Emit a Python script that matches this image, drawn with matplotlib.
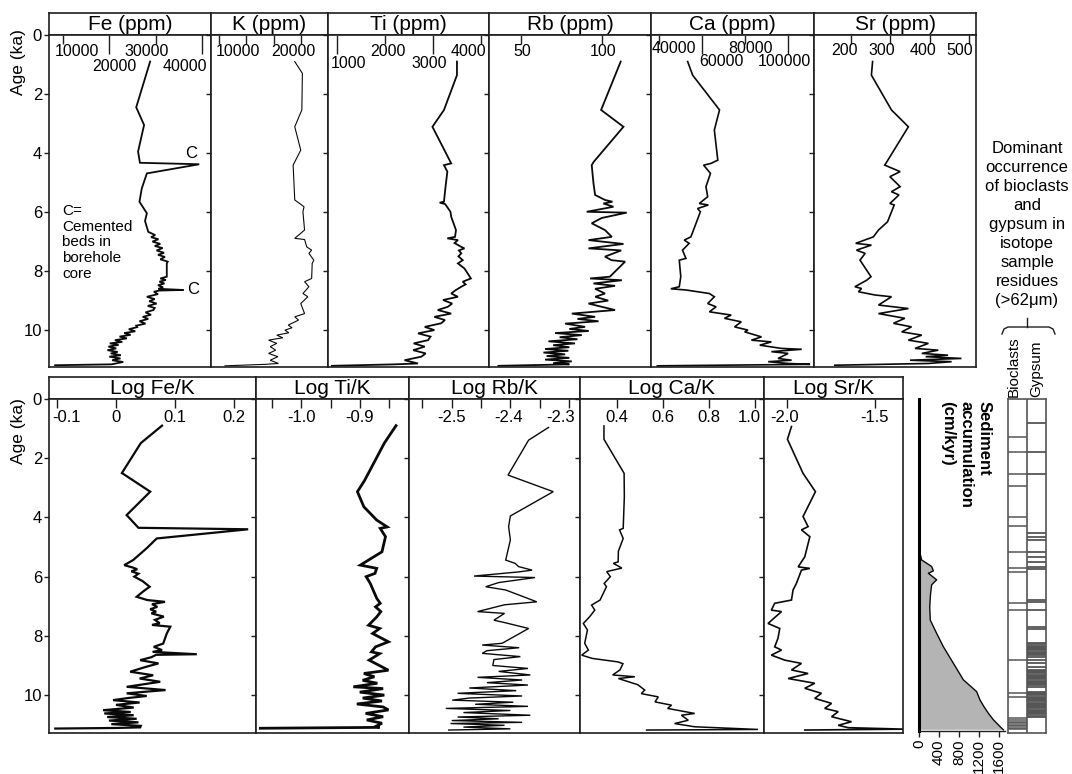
import matplotlib
matplotlib.use('Agg')
import matplotlib.pyplot as plt

plt.rcParams['font.family'] = ['Liberation Sans', 'DejaVu Sans']

# ------------------------------------------------------------------ data
age_ticks = [0, 2, 4, 6, 8, 10]

fe_age = [0.90, 2.45, 3.05, 3.95, 4.33, 4.38, 4.69, 5.20, 5.65, 6.04, 6.30, 6.67, 6.78, 6.85, 6.92,
          7.00, 7.08, 7.15, 7.22, 7.30, 7.38, 7.45, 7.52, 7.60, 7.68, 7.74, 8.19, 8.25, 8.30, 8.36,
          8.42, 8.48, 8.55, 8.60, 8.64, 8.66, 8.70, 8.78, 8.87, 8.95, 9.02, 9.10, 9.18, 9.25, 9.32,
          9.40, 9.48, 9.55, 9.62, 9.70, 9.78, 9.85, 9.90, 9.97, 10.04, 10.10, 10.16, 10.22, 10.28,
          10.34, 10.40, 10.45, 10.50, 10.56, 10.62, 10.68, 10.74, 10.79, 10.85, 10.90, 10.96, 11.02,
          11.08, 11.13, 11.16, 11.19]
fe_ppm = [28800, 25800, 27500, 26200, 26600, 39400, 28100, 27000, 26500, 28100, 27700, 28400, 29900,
          29000, 30600, 29300, 31000, 29800, 31500, 30200, 31800, 30500, 32000, 31000, 32600, 32400,
          32400, 31000, 32200, 30800, 31900, 30500, 31600, 30600, 36000, 30800, 29600, 30500, 28100,
          29800, 28600, 30200, 28300, 29800, 29500, 27800, 29000, 27200, 28400, 26500, 27800, 25800,
          26000, 24200, 25600, 23200, 24600, 22200, 23800, 21200, 22800, 20100, 22000, 19800, 21500,
          19600, 21800, 20300, 22500, 20000, 22400, 20600, 23000, 21400, 20500, 8300]

k_age = [0.90, 1.30, 2.54, 3.11, 3.90, 4.41, 5.59, 5.71, 5.82, 5.99, 6.61, 6.89, 6.93, 7.18, 7.29,
         7.40, 7.63, 7.74, 8.25, 8.36, 8.53, 8.76, 8.87, 9.10, 9.44, 9.55, 9.66, 9.83, 9.92, 10.00,
         10.09, 10.17, 10.26, 10.34, 10.45, 10.56, 10.68, 10.79, 10.90, 11.02, 11.13, 11.16, 11.21]
k_ppm = [23900, 25300, 25200, 23900, 25000, 23600, 23900, 24800, 25600, 25400, 25700, 23900, 25700,
         26100, 27000, 26500, 27400, 27100, 27000, 25700, 26500, 25400, 26300, 25000, 25700, 23900,
         24600, 22700, 23400, 22100, 22800, 20600, 21700, 19100, 20600, 19400, 20400, 19100, 20800,
         19400, 20900, 18500, 11100]

ti_age = [0.90, 1.36, 2.54, 3.11, 4.35, 4.41, 4.63, 5.25, 5.65, 5.68, 5.73, 5.99, 6.16, 6.61, 6.84,
          6.89, 6.95, 7.05, 7.18, 7.23, 7.30, 7.40, 7.50, 7.63, 7.74, 7.91, 8.25, 8.36, 8.45, 8.53,
          8.65, 8.76, 8.87, 8.98, 9.10, 9.21, 9.32, 9.44, 9.55, 9.66, 9.77, 9.89, 10.00, 10.11, 10.22,
          10.34, 10.45, 10.56, 10.68, 10.79, 10.90, 11.02, 11.13, 11.16, 11.21]
ti_ppm = [3500, 3500, 3230, 2990, 3380, 3230, 3300, 3255, 3230, 3140, 3255, 3365, 3380, 3480, 3460,
          3300, 3520, 3450, 3590, 3655, 3540, 3590, 3530, 3620, 3520, 3655, 3790, 3620, 3680, 3590,
          3470, 3380, 3520, 3210, 3400, 3310, 3100, 3380, 3030, 3250, 3170, 2830, 3030, 2690, 2950,
          2900, 2600, 2830, 2590, 2850, 2760, 2410, 2690, 2210, 900]

rb_age = [0.90, 2.54, 3.11, 4.30, 4.41, 5.03, 5.42, 5.59, 5.65, 5.71, 5.82, 5.99, 6.02, 6.20, 6.38,
          6.61, 6.84, 6.95, 7.08, 7.23, 7.30, 7.51, 7.63, 7.68, 8.19, 8.25, 8.31, 8.42, 8.50, 8.60,
          8.76, 8.87, 9.00, 9.10, 9.21, 9.32, 9.44, 9.55, 9.62, 9.70, 9.78, 9.89, 9.96, 10.03, 10.10,
          10.17, 10.24, 10.31, 10.38, 10.45, 10.51, 10.58, 10.64, 10.70, 10.76, 10.82, 10.88, 10.94,
          11.00, 11.06, 11.12, 11.16, 11.21]
rb_ppm = [111.7, 99.6, 113.4, 95.0, 93.8, 94.9, 95.9, 102.0, 106.6, 101.0, 107.2, 90.7, 115.4, 100.0,
          93.8, 102.0, 106.2, 91.8, 113.4, 91.8, 112.0, 102.0, 106.0, 114.4, 105.0, 92.8, 112.4, 94.9,
          108.2, 95.9, 102.0, 96.0, 104.0, 91.8, 100.0, 108.2, 81.5, 95.9, 85.0, 98.0, 77.4, 89.7,
          80.0, 92.0, 71.2, 87.7, 74.0, 85.0, 67.1, 83.5, 70.0, 80.0, 65.0, 79.4, 64.0, 77.4, 66.0,
          80.0, 65.0, 81.5, 70.0, 80.0, 36.2]

ca_age = [0.90, 1.36, 2.54, 3.22, 4.24, 4.35, 4.41, 4.69, 5.14, 5.48, 5.71, 5.76, 5.88, 5.99, 6.38,
          6.84, 6.95, 7.06, 7.29, 7.57, 7.63, 8.19, 8.53, 8.60, 8.64, 8.76, 8.87, 9.10, 9.21, 9.38,
          9.49, 9.60, 9.72, 9.89, 10.00, 10.06, 10.23, 10.34, 10.40, 10.51, 10.62, 10.65, 10.73,
          10.79, 10.96, 11.02, 11.07, 11.13, 11.16, 11.21]
ca_ppm = [53300, 55600, 68100, 65700, 67300, 64200, 60700, 63900, 61800, 62600, 58700, 62900, 57900,
          59200, 57200, 54800, 51700, 54000, 50900, 52500, 49400, 50100, 49400, 45500, 52500, 63400,
          65700, 62600, 66500, 63400, 73500, 70400, 78200, 75100, 81300, 79800, 87600, 82900, 92200,
          86800, 96900, 106300, 92200, 100000, 95300, 101600, 90700, 100000, 110200, 39200]

sr_age = [0.90, 1.36, 2.54, 3.11, 4.41, 4.63, 4.80, 5.14, 5.31, 5.42, 5.71, 5.76, 6.33, 6.61, 6.84,
          7.06, 7.12, 7.29, 7.40, 7.63, 8.19, 8.31, 8.53, 8.59, 8.70, 8.81, 8.87, 9.15, 9.27, 9.44,
          9.60, 9.77, 9.89, 10.06, 10.17, 10.34, 10.45, 10.62, 10.68, 10.79, 10.85, 10.90, 10.96,
          11.02, 11.07, 11.13, 11.19]
sr_ppm = [255, 252, 303, 346, 286, 325, 299, 325, 303, 322, 299, 310, 293, 270, 257, 212, 252, 214,
          236, 223, 251, 240, 210, 227, 219, 261, 303, 270, 346, 270, 337, 308, 354, 329, 380, 346,
          397, 363, 422, 380, 447, 390, 481, 350, 456, 397, 159]

fek_age = [0.90, 1.49, 2.50, 3.13, 3.92, 4.35, 4.40, 4.71, 5.04, 5.44, 5.61, 5.69, 5.75, 5.82, 5.90,
           6.00, 6.15, 6.34, 6.50, 6.68, 6.79, 6.85, 6.93, 7.02, 7.10, 7.18, 7.24, 7.35, 7.46, 7.57,
           7.63, 7.69, 7.92, 8.26, 8.37, 8.48, 8.54, 8.62, 8.64, 8.72, 8.82, 8.93, 9.05, 9.21, 9.33,
           9.44, 9.55, 9.64, 9.72, 9.83, 9.94, 10.03, 10.10, 10.17, 10.25, 10.33, 10.42, 10.51, 10.57,
           10.62, 10.68, 10.74, 10.80, 10.86, 10.92, 10.98, 11.04, 11.09, 11.11, 11.13]
fek_log = [0.078, 0.042, 0.010, 0.058, 0.018, 0.038, 0.224, 0.069, 0.052, 0.029, 0.014, 0.028, 0.036,
           0.026, 0.038, 0.031, 0.045, 0.057, 0.046, 0.035, 0.053, 0.083, 0.061, 0.070, 0.058, 0.068,
           0.060, 0.081, 0.066, 0.074, 0.061, 0.092, 0.086, 0.080, 0.064, 0.078, 0.062, 0.137, 0.068,
           0.060, 0.041, 0.072, 0.050, 0.024, 0.063, 0.040, 0.075, 0.045, 0.018, 0.084, 0.018, 0.052,
           0.020, -0.005, 0.040, 0.000, 0.030, -0.022, 0.025, -0.020, 0.030, -0.015, 0.035, -0.012,
           0.038, -0.008, 0.042, 0.041, 0.000, -0.103]

tik_age = [0.90, 1.49, 2.76, 3.13, 3.64, 4.09, 4.32, 4.37, 4.65, 5.16, 5.61, 5.72, 5.89, 6.00, 6.23,
           6.73, 6.90, 7.02, 7.18, 7.36, 7.64, 7.75, 7.92, 8.20, 8.37, 8.54, 8.60, 8.82, 9.16, 9.27,
           9.38, 9.50, 9.60, 9.72, 9.78, 9.90, 10.00, 10.10, 10.20, 10.30, 10.40, 10.50, 10.62, 10.73,
           10.84, 10.95, 11.05, 11.09, 11.12]
tik_log = [-0.838, -0.858, -0.892, -0.904, -0.893, -0.871, -0.853, -0.865, -0.856, -0.862, -0.899,
           -0.871, -0.874, -0.889, -0.882, -0.871, -0.865, -0.873, -0.864, -0.871, -0.885, -0.866,
           -0.878, -0.851, -0.873, -0.880, -0.866, -0.884, -0.851, -0.893, -0.875, -0.895, -0.870,
           -0.911, -0.860, -0.900, -0.858, -0.895, -0.862, -0.905, -0.860, -0.851, -0.890, -0.860,
           -0.888, -0.862, -0.872, -0.866, -1.070]

rbk_age = [0.96, 1.39, 2.57, 3.13, 3.95, 4.31, 4.76, 5.44, 5.55, 5.66, 5.78, 5.84, 5.98, 6.03, 6.20,
           6.34, 6.45, 6.85, 6.95, 7.18, 7.24, 7.47, 7.55, 7.75, 8.25, 8.31, 8.40, 8.50, 8.59, 8.70,
           8.80, 9.00, 9.10, 9.20, 9.32, 9.40, 9.49, 9.58, 9.66, 9.76, 9.85, 9.94, 10.03, 10.10, 10.17,
           10.24, 10.31, 10.38, 10.45, 10.52, 10.59, 10.68, 10.74, 10.80, 10.86, 10.92, 10.96, 11.02,
           11.08, 11.14, 11.18]
rbk_log = [-2.335, -2.369, -2.404, -2.327, -2.400, -2.403, -2.400, -2.408, -2.392, -2.386, -2.363,
           -2.386, -2.462, -2.358, -2.420, -2.442, -2.408, -2.355, -2.410, -2.456, -2.410, -2.428,
           -2.410, -2.369, -2.414, -2.448, -2.385, -2.440, -2.448, -2.383, -2.428, -2.430, -2.370,
           -2.420, -2.366, -2.456, -2.380, -2.440, -2.370, -2.470, -2.390, -2.490, -2.380, -2.470,
           -2.499, -2.395, -2.460, -2.370, -2.510, -2.400, -2.480, -2.366, -2.490, -2.420, -2.500,
           -2.380, -2.502, -2.410, -2.480, -2.400, -2.505]

cak_age = [0.91, 1.36, 2.51, 3.30, 4.37, 4.42, 4.71, 5.14, 5.50, 5.55, 5.71, 5.83, 6.00, 6.23, 6.34,
           6.79, 6.96, 7.13, 7.35, 7.58, 7.80, 8.25, 8.48, 8.65, 8.76, 8.88, 8.94, 9.15, 9.32, 9.38,
           9.44, 9.65, 9.83, 9.95, 10.06, 10.23, 10.34, 10.45, 10.62, 10.68, 10.85, 10.96, 11.07,
           11.16, 11.18]
cak_log = [0.342, 0.342, 0.430, 0.431, 0.426, 0.410, 0.426, 0.405, 0.404, 0.383, 0.420, 0.354, 0.370,
           0.343, 0.353, 0.325, 0.288, 0.302, 0.280, 0.252, 0.270, 0.258, 0.274, 0.245, 0.290, 0.404,
           0.425, 0.412, 0.380, 0.477, 0.405, 0.490, 0.520, 0.505, 0.579, 0.565, 0.637, 0.620, 0.738,
           0.680, 0.710, 0.650, 0.738, 1.014, 0.528]

srk_age = [0.93, 1.36, 2.51, 3.13, 3.97, 4.31, 4.42, 4.65, 5.33, 5.67, 5.72, 5.78, 6.23, 6.45, 6.79,
           6.90, 7.13, 7.18, 7.58, 7.75, 8.08, 8.37, 8.48, 8.65, 8.82, 8.93, 9.15, 9.27, 9.44, 9.60,
           9.77, 9.94, 10.11, 10.28, 10.45, 10.56, 10.73, 10.90, 11.02, 11.10, 11.15, 11.18]
srk_log = [-1.977, -2.000, -1.911, -1.840, -1.911, -1.882, -1.920, -1.872, -1.901, -1.939, -1.872,
           -1.920, -1.949, -1.968, -1.977, -2.073, -2.092, -2.034, -2.111, -2.044, -2.054, -2.073,
           -2.034, -2.092, -2.015, -1.920, -1.977, -1.882, -1.996, -1.844, -1.901, -1.806, -1.844,
           -1.748, -1.787, -1.710, -1.748, -1.634, -1.710, -1.653, -1.330, -1.901]

sed_age = [0.0, 2.0, 4.0, 5.0, 5.21, 5.44, 5.66, 5.81, 5.89, 6.11, 6.28, 6.60, 7.02, 7.47, 7.92,
           8.37, 8.93, 9.49, 9.89, 10.17, 10.40, 10.62, 10.84, 11.07, 11.18]
sed_rate = [8, 10, 12, 15, 20, 53, 253, 287, 187, 353, 253, 230, 215, 225, 353, 487, 687, 887,
            1153, 1220, 1300, 1387, 1487, 1620, 1687]

bioclast_age = [1.27, 1.78, 2.54, 2.94, 3.97, 4.28, 5.16, 5.72, 5.83, 6.88, 7.13, 8.82, 9.94, 10.06,
                10.78, 10.84, 10.90, 10.95, 11.00, 11.05, 11.10, 11.15]
gypsum_age = [0.82, 1.78, 2.54, 4.54, 4.65, 4.76, 5.16, 5.33, 5.50, 5.66, 5.75, 6.79, 6.85, 7.13,
              7.69, 7.78, 8.25, 8.29, 8.33, 8.37, 8.41, 8.45, 8.49, 8.53, 8.57, 8.61, 8.65, 8.70,
              8.82, 8.93, 9.04, 9.15, 9.19, 9.23, 9.27, 9.31, 9.35, 9.39, 9.43, 9.47, 9.51, 9.55,
              9.59, 9.63, 9.67, 9.72, 9.89, 9.93, 9.97, 10.01, 10.05, 10.09, 10.13, 10.17, 10.21,
              10.25, 10.29, 10.33, 10.37, 10.41, 10.45, 10.49, 10.53, 10.57, 10.61, 10.65, 10.69, 10.73]

fe_ticks = [10000, 20000, 30000, 40000]
k_ticks = [10000, 15000, 20000, 25000]
k_labeled = [10000, 20000]
ti_ticks = [1000, 2000, 3000, 4000]
rb_ticks = [50, 100]
ca_ticks = [40000, 60000, 80000, 100000]
sr_ticks = [200, 300, 400, 500]
fek_ticks = [-0.1, 0.0, 0.1, 0.2]
fek_labels = ['-0.1', '0', '0.1', '0.2']
tik_ticks = [-1.05, -1.0, -0.95, -0.9, -0.85]
tik_labeled = [-1.0, -0.9]
tik_labels = ['-1.0', '-0.9']
rbk_ticks = [-2.55, -2.5, -2.45, -2.4, -2.35, -2.3]
rbk_labeled = [-2.5, -2.4, -2.3]
rbk_labels = ['-2.5', '-2.4', '-2.3']
cak_ticks = [0.4, 0.6, 0.8, 1.0]
cak_labels = ['0.4', '0.6', '0.8', '1.0']
srk_ticks = [-2.0, -1.5]
srk_labels = ['-2.0', '-1.5']
sed_ticks = [0, 400, 800, 1200, 1600]

# ------------------------------------------------------------------ layout
W, H = 1072, 774
PX = 0.72  # points per pixel at dpi=100
EDGE = '#1e1e1e'
LINE = '#0a0a0a'

fig = plt.figure(figsize=(W / 100, H / 100), dpi=100)
fig.patch.set_facecolor('white')


def rect(x0, y0, x1, y1):
    return [x0 / W, 1 - y1 / H, (x1 - x0) / W, (y1 - y0) / H]


TOP = dict(hdr=13, top=35, bot=367, ymax=11.25)
BOT = dict(hdr=377, top=399, bot=733, ymax=11.28)


def make_panel(x0, x1, row, title, xlim, age_labels):
    hdr = fig.add_axes(rect(x0, row['hdr'], x1, row['top']))
    hdr.set_xticks([])
    hdr.set_yticks([])
    for s in hdr.spines.values():
        s.set_color(EDGE)
        s.set_linewidth(1.2)
    hdr.text(0.5, 0.47, title, transform=hdr.transAxes, ha='center', va='center', fontsize=15)
    ax = fig.add_axes(rect(x0, row['top'], x1, row['bot']))
    for s in ax.spines.values():
        s.set_color(EDGE)
        s.set_linewidth(1.2)
    ax.set_yticks(age_ticks)
    ax.set_yticklabels([str(a) for a in age_ticks] if age_labels else [])
    ax.tick_params(axis='y', direction='out', length=3.5, width=1.0, pad=1.5,
                   labelsize=12, color=EDGE, labelcolor='black')
    ax.set_ylim(row['ymax'], 0)
    return ax, xlim


def x_axis(ax, xlim, ticks, long_ticks, labeled, labels, offsets, fs):
    short = [t for t in ticks if t not in long_ticks]
    ax.set_xticks(short)
    ax.set_xticks(long_ticks, minor=True)
    ax.tick_params(axis='x', which='both', direction='in', top=True, bottom=False,
                   labeltop=False, labelbottom=False, width=1.0, color=EDGE)
    ax.tick_params(axis='x', which='major', length=9 * PX)
    ax.tick_params(axis='x', which='minor', length=19 * PX)
    ax.set_xlim(*xlim)
    for val, txt, (dx, dy) in zip(labeled, labels, offsets):
        ax.annotate(txt, xy=(val, 1), xycoords=('data', 'axes fraction'),
                    xytext=(dx * PX, -dy * PX), textcoords='offset points',
                    ha='center', va='top', fontsize=fs, annotation_clip=False)


def trace(ax, vals, ages, lw):
    ax.plot(vals, ages, color=LINE, lw=lw, solid_joinstyle='miter')


# ---- top row
ax, xl = make_panel(49, 211, TOP, 'Fe (ppm)', (6980, 41940), True)
x_axis(ax, xl, fe_ticks, [20000, 40000], fe_ticks, [str(t) for t in fe_ticks],
       [(14, 9), (5, 24), (-9, 9), (-17, 24)], 11.5)
trace(ax, fe_ppm, fe_age, 1.3)
ax.text(37630, 4.0, 'C', ha='center', va='center', fontsize=12)
ax.text(38060, 8.64, 'C', ha='center', va='center', fontsize=12)
ax.text(9780, 5.73, 'C=\nCemented\nbeds in\nborehole\ncore', ha='left', va='top',
        fontsize=11, linespacing=1.15)

ax, xl = make_panel(211, 328, TOP, 'K (ppm)', (8532, 30000), False)
x_axis(ax, xl, k_ticks, [], k_labeled, [str(t) for t in k_labeled],
       [(18.5, 9), (19.5, 9)], 11.5)
trace(ax, k_ppm, k_age, 0.8)

ax, xl = make_panel(328, 489, TOP, 'Ti (ppm)', (819, 4166), False)
x_axis(ax, xl, ti_ticks, [1000, 3000], ti_ticks, [str(t) for t in ti_ticks],
       [(11.7, 21), (3, 9), (-3.7, 21), (-12.7, 9)], 11.5)
trace(ax, ti_ppm, ti_age, 1.3)

ax, xl = make_panel(489, 651, TOP, 'Rb (ppm)', (30.4, 130.4), False)
x_axis(ax, xl, rb_ticks, [], rb_ticks, [str(t) for t in rb_ticks],
       [(1, 9), (1, 9)], 11.5)
trace(ax, rb_ppm, rb_age, 1.3)

ax, xl = make_panel(651, 814, TOP, 'Ca (ppm)', (36262, 112009), False)
x_axis(ax, xl, ca_ticks, [60000, 100000], ca_ticks, [str(t) for t in ca_ticks],
       [(15, 6), (19, 19), (5, 6), (-4, 19)], 11.5)
trace(ax, ca_ppm, ca_age, 1.2)

ax, xl = make_panel(814, 976, TOP, 'Sr (ppm)', (106, 518), False)
x_axis(ax, xl, sr_ticks, [], sr_ticks, [str(t) for t in sr_ticks],
       [(-6, 8), (-9, 8), (-7, 8), (-9, 8)], 11.5)
trace(ax, sr_ppm, sr_age, 1.2)

# ---- bottom row
ax, xl = make_panel(49, 256, BOT, 'Log Fe/K', (-0.1136, 0.2373), True)
x_axis(ax, xl, fek_ticks, [], fek_ticks, fek_labels,
       [(9, 11), (0, 11), (0, 11), (0, 11)], 12)
trace(ax, fek_log, fek_age, 1.6)

ax, xl = make_panel(256, 409, BOT, 'Log Ti/K', (-1.0774, -0.8158), False)
x_axis(ax, xl, tik_ticks, [], tik_labeled, tik_labels, [(0, 11), (0, 11)], 12)
trace(ax, tik_log, tik_age, 2.0)

ax, xl = make_panel(409, 580, BOT, 'Log Rb/K', (-2.5727, -2.2814), False)
x_axis(ax, xl, rbk_ticks, [], rbk_labeled, rbk_labels, [(0, 11), (-2, 11), (-9, 11)], 12)
trace(ax, rbk_log, rbk_age, 1.0)

ax, xl = make_panel(580, 764, BOT, 'Log Ca/K', (0.2375, 1.0405), False)
x_axis(ax, xl, cak_ticks, [], cak_ticks, cak_labels,
       [(0, 11), (0, 11), (0, 11), (-5, 11)], 12)
trace(ax, cak_log, cak_age, 1.1)

ax, xl = make_panel(764, 903, BOT, 'Log Sr/K', (-2.134, -1.3397), False)
x_axis(ax, xl, srk_ticks, [], srk_ticks, srk_labels, [(-3, 11), (0, 11)], 12)
trace(ax, srk_log, srk_age, 1.2)

# ---- sediment accumulation
sax = fig.add_axes(rect(919, 399, 1005, 731))
sax.fill_betweenx(sed_age, 0, sed_rate, facecolor='#b4b4b4', edgecolor='none')
sax.plot(sed_rate, sed_age, color=LINE, lw=1.0)
sax.set_xlim(0, 1720)
sax.set_ylim(11.22, 0)
sax.spines['top'].set_visible(False)
sax.spines['right'].set_visible(False)
sax.spines['left'].set_linewidth(2.2)
sax.spines['left'].set_color('black')
sax.spines['bottom'].set_linewidth(1.0)
sax.spines['bottom'].set_color(EDGE)
sax.set_yticks([])
sax.set_xticks(sed_ticks)
sax.set_xticklabels([str(t) for t in sed_ticks])
sax.tick_params(axis='x', direction='out', length=4, width=1.0, pad=2, labelsize=11,
                labelrotation=90, color=EDGE)
fig.text(966 / W, 1 - 401 / H, 'Sediment\naccumulation\n(cm/kyr)', rotation=-90,
         ha='center', va='top', fontsize=12, fontweight='bold', linespacing=1.25,
         multialignment='left')

# ---- bioclasts / gypsum
bax = fig.add_axes(rect(1008, 399, 1046, 733))
bax.set_xlim(0, 2)
bax.set_ylim(11.28, 0)
bax.hlines(bioclast_age, 0, 1, color='#555555', lw=1.1)
bax.hlines(gypsum_age, 1, 2, color='#555555', lw=1.3)
bax.axvline(1, color='#555555', lw=1.2)
bax.set_xticks([])
bax.set_yticks([])
for s in bax.spines.values():
    s.set_color('#555555')
    s.set_linewidth(1.2)
fig.text(1014 / W, 1 - 397 / H, 'Bioclasts', rotation=90, ha='center', va='bottom', fontsize=11)
fig.text(1036 / W, 1 - 397 / H, 'Gypsum', rotation=90, ha='center', va='bottom', fontsize=11)

fig.text(1027 / W, 1 - 141 / H,
         'Dominant\noccurrence\nof bioclasts\nand\ngypsum in\nisotope\nsample\nresidues\n(>62\u03bcm)',
         ha='center', va='top', fontsize=12, linespacing=1.33, multialignment='center')

# bracket under the note
oax = fig.add_axes([0, 0, 1, 1])
oax.set_xlim(0, W)
oax.set_ylim(H, 0)
oax.axis('off')
oax.plot([1002, 1004, 1008, 1049, 1053, 1055], [334, 329, 327, 327, 329, 334], color=EDGE, lw=1.0)
oax.plot([1027, 1027], [318, 327], color=EDGE, lw=1.0)

# age axis titles
fig.text(18 / W, 1 - 62 / H, 'Age (ka)', rotation=90, ha='center', va='center', fontsize=12.5)
fig.text(19 / W, 1 - 431 / H, 'Age (ka)', rotation=90, ha='center', va='center', fontsize=12.5)

fig.savefig('out.png', dpi=100, facecolor='white')
